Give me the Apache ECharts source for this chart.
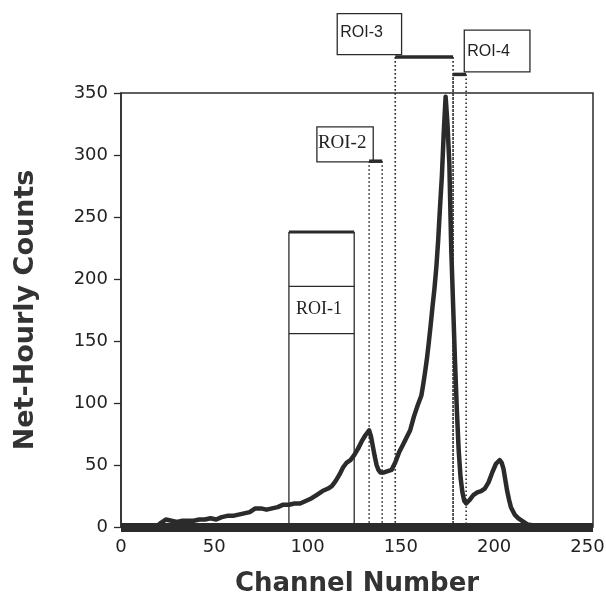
<!DOCTYPE html>
<html>
<head>
<meta charset="utf-8">
<script src="https://cdn.jsdelivr.net/npm/echarts@6/dist/echarts.min.js"></script>
<style>
  html, body { margin: 0; padding: 0; background: #fff; }
  #chart { width: 606px; height: 595px; }
</style>
</head>
<body>
<div id="chart"></div>
<script>
// spectrum
const channels = [0, 10, 19, 21, 24, 27, 30, 33, 36, 39, 42, 45, 48, 51, 54, 57, 60, 63, 66, 69,
  72, 75, 78, 81, 84, 87, 90, 93, 96, 99, 102, 105, 108, 111, 113, 115, 117, 119, 121, 123,
  125, 127, 129, 131, 133, 134, 135, 136, 137, 138, 139, 141, 143, 145, 147, 149, 151, 153, 155, 157,
  159, 160, 161, 162, 163, 164, 165, 166, 167, 168, 169, 170, 171, 172, 173, 174, 175, 176, 177, 178,
  179, 180, 181, 182, 183, 184, 185, 187, 189, 191, 193, 195, 197, 199, 201, 203, 204, 205, 206, 207,
  208, 209, 211, 213, 215, 218, 222, 230, 253]
const counts = [0, 0, 0, 3, 6, 5, 4, 5, 5, 5, 6, 6, 7, 6, 8, 9, 9, 10, 11, 12,
  15, 15, 14, 15, 16, 18, 18, 19, 19, 21, 23, 26, 29, 31, 33, 37, 42, 48, 52, 54,
  58, 63, 69, 74, 78, 73, 65, 57, 50, 46, 44, 44, 45, 46, 52, 60, 66, 72, 78, 89,
  98, 102, 106, 115, 125, 136, 149, 163, 178, 192, 209, 231, 258, 283, 318, 347, 325, 293, 225, 180,
  135, 95, 62, 40, 28, 21, 19, 22, 26, 28, 29, 31, 36, 44, 51, 54, 52, 47, 38, 29,
  22, 16, 10, 7, 5, 2, 1, 0, 0]

// regions of interest
const roiNames = ['ROI-1', 'ROI-2', 'ROI-3', 'ROI-4']
const roiLo = [90, 133, 147, 178]
const roiHi = [125, 140, 178, 185]
const roiLevel = [238, 295, 379, 365]

const xTicks = [0, 50, 100, 150, 200, 250]
const yTicks = [0, 50, 100, 150, 200, 250, 300, 350]

// where the label boxes sit (axis units) and text offsets (px)
const boxLayout = [
  { x0: 90, x1: 125, top: 194, bottom: 156, dx: 7, dy: 23, font: 'Liberation Serif', size: 18 },
  { x0: 105, x1: 135.2, top: 322.7, bottom: 294.4, dx: 1, dy: 16, font: 'Liberation Serif', size: 19 },
  { x0: 115.9, x1: 150.4, top: 414, bottom: 381, dx: 3, dy: 19, font: 'Liberation Sans', size: 16 },
  { x0: 184, x1: 219.2, top: 400.7, bottom: 367, dx: 3, dy: 21, font: 'Liberation Sans', size: 16 }
]

const ink = '#2b2b2b'
const myEcharts = echarts.init(document.getElementById('chart'))

function renderRoi(params, api) {
  const i = params.dataIndex
  const b = boxLayout[i]
  const lo = roiLo[i], hi = roiHi[i], lv = roiLevel[i]
  const tl = api.coord([b.x0, b.top])
  const br = api.coord([b.x1, b.bottom])
  const children = []
  const txt = {
    type: 'text',
    style: {
      text: roiNames[i], x: tl[0] + b.dx, y: tl[1] + b.dy,
      fill: '#222', font: b.size + 'px "' + b.font + '"',
      textAlign: 'left', textVerticalAlign: 'middle'
    },
    z2: 5
  }
  if (i === 0) {
    // solid window with the label band inside
    const p0 = api.coord([lo, 0]), p1 = api.coord([hi, lv])
    children.push({ type: 'line', shape: { x1: p0[0], y1: p0[1], x2: p0[0], y2: p1[1] }, style: { stroke: ink, lineWidth: 1.3 } })
    children.push({ type: 'line', shape: { x1: p1[0], y1: p0[1], x2: p1[0], y2: p1[1] }, style: { stroke: ink, lineWidth: 1.3 } })
    children.push({ type: 'line', shape: { x1: p0[0], y1: p1[1], x2: p1[0], y2: p1[1] }, style: { stroke: ink, lineWidth: 3 } })
    children.push({ type: 'line', shape: { x1: tl[0], y1: tl[1], x2: br[0], y2: tl[1] }, style: { stroke: ink, lineWidth: 1.3 } })
    children.push({ type: 'line', shape: { x1: tl[0], y1: br[1], x2: br[0], y2: br[1] }, style: { stroke: ink, lineWidth: 1.3 } })
    children.push(txt)
    return { type: 'group', children }
  }
  const a = api.coord([lo, lv]), c = api.coord([hi, lv]), z = api.coord([lo, 0])
  const dot = { stroke: ink, lineWidth: 1.6, lineDash: [1.6, 2.4] }
  children.push({ type: 'line', shape: { x1: a[0], y1: a[1], x2: a[0], y2: z[1] }, style: dot })
  children.push({ type: 'line', shape: { x1: c[0], y1: c[1], x2: c[0], y2: z[1] }, style: dot })
  children.push({
    type: 'rect',
    shape: { x: tl[0], y: tl[1], width: br[0] - tl[0], height: br[1] - tl[1] },
    style: { fill: '#fff', stroke: ink, lineWidth: 1.3 }, z2: 3
  })
  children.push({ type: 'line', shape: { x1: a[0], y1: a[1], x2: c[0], y2: c[1] }, style: { stroke: ink, lineWidth: 3.5 }, z2: 4 })
  children.push(txt)
  return { type: 'group', children }
}

const option = {
  backgroundColor: '#fff',
  animation: false,
  grid: {
    left: 121, right: 13, top: 93, bottom: 68,
    outerBoundsMode: 'none',
    show: true, borderColor: ink, borderWidth: 1.5
  },
  xAxis: {
    type: 'value', min: 0, max: 253, interval: 50,
    name: 'Channel Number', nameLocation: 'middle', nameGap: 44,
    nameTextStyle: { fontFamily: 'DejaVu Sans', fontWeight: 'bold', fontSize: 26, color: '#333' },
    axisLine: { lineStyle: { color: ink, width: 9, cap: 'butt' } },
    axisTick: { show: false },
    splitLine: { show: false },
    axisLabel: {
      margin: 11, fontFamily: 'DejaVu Sans', fontSize: 18, color: '#222', showMaxLabel: false,
      formatter: v => (xTicks.indexOf(v) >= 0 ? String(v) : '')
    }
  },
  yAxis: {
    type: 'value', min: 0, max: 350, interval: 50,
    name: 'Net-Hourly Counts', nameLocation: 'middle', nameGap: 82,
    nameTextStyle: { fontFamily: 'DejaVu Sans', fontWeight: 'bold', fontSize: 27, color: '#333' },
    axisLine: { show: true, lineStyle: { color: ink, width: 1.5 } },
    axisTick: { show: true, length: 7, lineStyle: { color: ink, width: 1.3 } },
    splitLine: { show: false },
    axisLabel: {
      margin: 13, fontFamily: 'DejaVu Sans', fontSize: 18, color: '#222',
      formatter: v => (yTicks.indexOf(v) >= 0 ? String(v) : '')
    }
  },
  series: [
    {
      type: 'custom',
      clip: false,
      renderItem: renderRoi,
      data: roiNames.map((n, i) => [roiLo[i], roiLevel[i]]),
      z: 3
    },
    {
      type: 'line',
      data: channels.map((c, i) => [c, counts[i]]),
      showSymbol: false,
      smooth: false,
      clip: false,
      lineStyle: { color: ink, width: 4.5, join: 'round', cap: 'butt' },
      z: 2
    }
  ]
}

option && myEcharts.setOption(option)
</script>
</body>
</html>
